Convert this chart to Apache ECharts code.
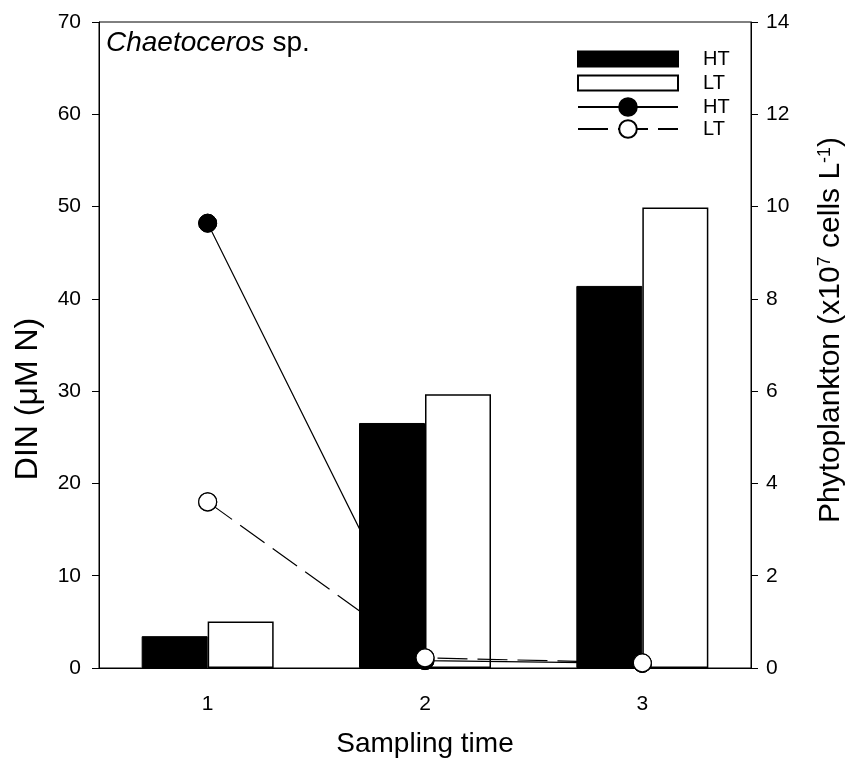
<!DOCTYPE html>
<html>
<head>
<meta charset="utf-8">
<script src="https://cdn.jsdelivr.net/npm/echarts@6/dist/echarts.min.js"></script>
<style>html,body{margin:0;padding:0;background:#fff;}#c{width:847px;height:763px;}</style>
</head>
<body>
<div id="c"></div>
<script>
const categories = ['1', '2', '3'];
const cellsHT = [0.69, 5.31, 8.28];
const cellsLT = [1.01, 5.93, 9.98];
const dinHT = [48.2, 0.8, 0.5];
const dinLT = [18.0, 1.1, 0.55];
const leftTicks = {min: 0, max: 70, interval: 10};
const rightTicks = {min: 0, max: 14, interval: 2};

const FONT = '"Liberation Sans", Arial, sans-serif';
const chart = echarts.init(document.getElementById('c'));
const nameFmt = n => n.split(' ')[0];
chart.setOption({
  animation: false,
  backgroundColor: '#fff',
  textStyle: {fontFamily: FONT, color: '#000'},
  title: {
    text: '{i|Chaetoceros} sp.',
    left: 106, top: 29, padding: 0,
    textStyle: {fontFamily: FONT, fontSize: 28, fontWeight: 'normal', color: '#000',
      rich: {i: {fontFamily: FONT, fontSize: 28, fontStyle: 'italic', color: '#000'}}}
  },
  graphic: [
    {
      type: 'text', x: 28, y: 399, rotation: Math.PI / 2,
      style: {text: 'DIN (\u03bcM N)', font: '32px "Liberation Sans", Arial, sans-serif', fill: '#000',
        align: 'center', verticalAlign: 'middle'}
    },
    {
      type: 'text', x: 831, y: 330, rotation: Math.PI / 2,
      style: {text: 'Phytoplankton (x10{sup|7} cells L{sup|-1})', font: '30px "Liberation Sans", Arial, sans-serif', fill: '#000',
        align: 'center', verticalAlign: 'middle',
        rich: {sup: {fontFamily: FONT, fontSize: 18, fill: '#000', verticalAlign: 'top', lineHeight: 30}}}
    }
  ],
  grid: {left: 99, right: 96, top: 22, bottom: 90, show: true, borderColor: '#000', borderWidth: 1, backgroundColor: 'transparent'},
  legend: [
    {
      data: ['HT (cells)', 'LT (cells)'], orient: 'vertical', left: 577, top: 49, padding: 0,
      itemWidth: 100, itemHeight: 15, itemGap: 4, icon: 'rect', formatter: nameFmt,
      textStyle: {fontFamily: FONT, fontSize: 20, color: '#000', padding: [0, 0, 0, 20]}
    },
    {
      data: ['HT (DIN)', 'LT (DIN)'], orient: 'vertical', left: 577, top: 97, padding: 0,
      itemWidth: 100, itemHeight: 22, itemGap: 2, formatter: nameFmt,
      textStyle: {fontFamily: FONT, fontSize: 20, color: '#000', padding: [0, 0, 0, 20]}
    }
  ],
  xAxis: {
    type: 'category', data: categories, boundaryGap: true,
    axisLine: {lineStyle: {color: '#000', width: 1}},
    axisTick: {alignWithLabel: true, length: 6, lineStyle: {color: '#000'}},
    axisLabel: {fontFamily: FONT, fontSize: 21, color: '#000', margin: 26},
    name: 'Sampling time', nameLocation: 'middle', nameGap: 62,
    nameTextStyle: {fontFamily: FONT, fontSize: 28, color: '#000'}
  },
  yAxis: [
    {
      type: 'value', position: 'left', min: leftTicks.min, max: leftTicks.max, interval: leftTicks.interval,
      axisLine: {show: true, lineStyle: {color: '#000', width: 1}},
      axisTick: {show: true, length: 7, lineStyle: {color: '#000'}},
      axisLabel: {fontFamily: FONT, fontSize: 21, color: '#000', margin: 18},
      splitLine: {show: false}
    },
    {
      type: 'value', position: 'right', min: rightTicks.min, max: rightTicks.max, interval: rightTicks.interval,
      axisLine: {show: true, lineStyle: {color: '#000', width: 1}},
      axisTick: {show: true, length: 7, lineStyle: {color: '#000'}},
      axisLabel: {fontFamily: FONT, fontSize: 21, color: '#000', margin: 15},
      splitLine: {show: false}
    }
  ],
  series: [
    {
      name: 'HT (cells)', type: 'bar', yAxisIndex: 1, data: cellsHT, barWidth: 66, barGap: '0%', z: 3,
      itemStyle: {color: '#000', borderColor: '#000', borderWidth: 1}
    },
    {
      name: 'LT (cells)', type: 'bar', yAxisIndex: 1, data: cellsLT, barWidth: 66, barGap: '0%', z: 3,
      itemStyle: {color: 'rgba(255,255,255,0)', borderColor: '#000', borderWidth: 1.5}
    },
    {
      name: 'HT (DIN)', type: 'line', yAxisIndex: 0, data: dinHT, z: 2,
      symbol: 'circle', symbolSize: 18,
      itemStyle: {color: '#000', borderColor: '#000', borderWidth: 1},
      lineStyle: {color: '#000', width: 1.2}
    },
    {
      name: 'LT (DIN)', type: 'line', yAxisIndex: 0, data: dinLT, z: 2,
      symbol: 'circle', symbolSize: 18,
      itemStyle: {color: '#fff', borderColor: '#000', borderWidth: 1.2},
      lineStyle: {color: '#000', width: 1.2, type: [30, 10]}
    },
    {
      name: 'HT marks', type: 'scatter', yAxisIndex: 0, data: dinHT, z: 5,
      symbol: 'circle', symbolSize: 18,
      itemStyle: {color: '#000', borderColor: '#000', borderWidth: 1, opacity: 1}
    },
    {
      name: 'LT marks', type: 'scatter', yAxisIndex: 0, data: dinLT, z: 6,
      symbol: 'circle', symbolSize: 18,
      itemStyle: {color: '#fff', borderColor: '#000', borderWidth: 1.2, opacity: 1}
    }
  ]
});
</script>
</body>
</html>
